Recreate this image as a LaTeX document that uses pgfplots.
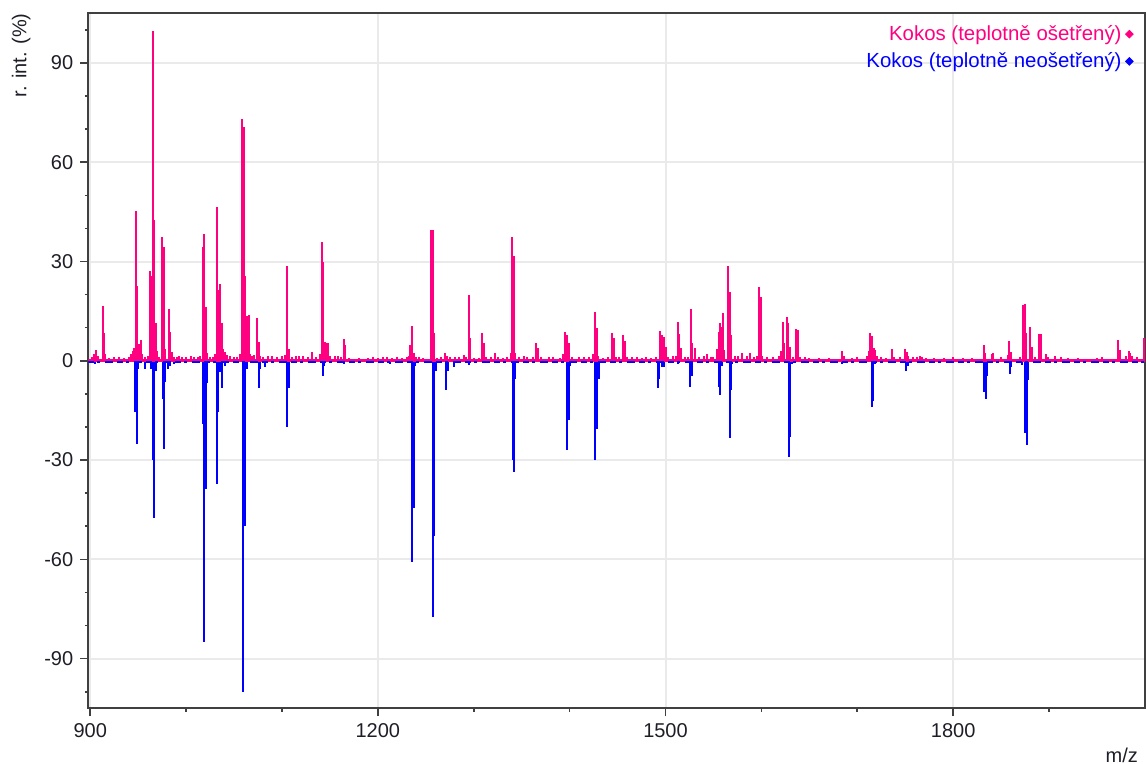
\documentclass[border=0pt]{standalone}
\usepackage{pgfplots}
\pgfplotsset{compat=1.18}
\usepackage{pgfplotstable}
\usepackage{fontspec}
\setmainfont{Liberation Sans}
\definecolor{kpink}{RGB}{255,0,128}
\definecolor{kblue}{RGB}{0,0,255}
\definecolor{axgray}{RGB}{64,64,64}
\definecolor{gridgray}{RGB}{234,234,234}
\definecolor{ticktext}{RGB}{30,30,40}

\pgfplotstableread{
mz int
902 1.2
904 2.0
906 3.3
908 1.5
913.2 16.6
914.5 8.4
915.8 2.0
920 0.8
925 1.0
930 1.0
935 0.8
940 1.2
943 2.0
944.5 3.0
946 4.0
947.3 45.4
948.7 22.7
950 5.0
951.5 5.0
953 6.3
954.5 2.0
957 1.2
960 1.5
961.9 27.0
963.3 25.7
965.4 99.6
966.8 42.6
968.2 11.5
969.6 3.0
972 1.0
975.1 37.4
976.5 34.5
978 3.5
981.7 15.6
983.1 8.6
984.8 2.8
987 1.2
990 1.0
993 1.5
996 1.0
1000 1.2
1005 1.5
1008 1.2
1012 1.0
1015 1.3
1017.2 34.5
1018.9 38.3
1020.7 16.2
1022.3 2.3
1025 1.0
1028 1.2
1030.5 2.0
1032.1 46.4
1033.5 21.4
1035.2 23.2
1037 11.5
1038.8 3.5
1040.5 2.8
1043 1.8
1046 1.3
1050 1.0
1053 1.2
1056.5 2.0
1058.2 73.0
1059.9 70.6
1061.6 25.7
1063.4 13.5
1065.1 13.8
1067 2.0
1069 1.3
1071 1.8
1074.2 12.8
1075.6 5.8
1077.5 1.5
1080 1.2
1085 1.5
1090 1.3
1095 1.2
1100 1.5
1103 1.8
1105.5 28.5
1107 3.5
1110 1.2
1115 1.5
1118 1.3
1122 1.5
1127 1.0
1131 2.8
1135 1.0
1139.5 2.0
1141.3 36.0
1142.7 29.8
1144.5 5.8
1146 5.3
1148 5.3
1150 1.5
1155 1.3
1158 1.5
1162 1.2
1164.3 6.6
1166 4.8
1170 0.8
1180 0.8
1190 0.8
1195 1.0
1200 0.8
1205 1.0
1210 1.0
1215 0.8
1220 1.0
1225 0.8
1230 1.2
1232 1.5
1233.8 4.8
1235.6 10.5
1237.3 2.5
1240 1.0
1243 1.0
1247 0.8
1255.7 39.4
1257.1 39.4
1258.5 8.5
1262 0.8
1266 1.0
1270 2.3
1272 1.5
1275 1.0
1280 1.0
1285 1.2
1290 1.6
1292 1.0
1294.7 19.9
1296.1 6.8
1300 0.8
1305 0.8
1308.9 8.5
1310.5 5.3
1313 1.0
1318 1.0
1322 2.3
1325 1.2
1330 0.8
1335 1.2
1338.5 2.5
1340.2 37.5
1341.9 31.7
1343.5 2.5
1347 1.0
1352 1.3
1356 1.0
1362 1.0
1365 5.3
1366.5 4.0
1370 1.0
1378 1.2
1383 1.0
1390 0.8
1393.5 2.0
1395.5 8.6
1397 7.8
1399 5.3
1402 1.0
1410 1.0
1415 1.2
1420 1.0
1424.5 2.0
1426.5 14.7
1428.2 9.8
1430 1.5
1435 0.8
1440 1.0
1444.2 8.5
1445.8 6.8
1448 1.0
1452 1.0
1455.6 7.7
1457.4 6.0
1460 1.0
1465 1.0
1470 1.2
1475 0.8
1480 1.0
1485 0.8
1490 1.2
1494.6 9.1
1496.3 7.8
1498 7.3
1500 4.3
1503 1.2
1508 1.5
1511 1.5
1513 11.8
1514.4 8.0
1516.2 3.8
1520 1.0
1523 1.0
1526.6 15.6
1528 5.3
1531 3.8
1535 1.0
1540 1.5
1543 2.2
1547 1.0
1550 1.2
1553.5 3.5
1555.4 8.8
1557 11.5
1558.5 10.3
1560 14.5
1561.5 3.3
1565.5 28.5
1566.9 20.9
1568.6 7.8
1572 1.5
1576 1.5
1580 2.3
1585 1.5
1588 2.5
1592 1.0
1595 1.5
1597.7 22.4
1599.1 19.4
1601 1.5
1606 1.0
1612 1.0
1618 1.5
1620.5 3.0
1622.2 11.8
1624 5.3
1626.7 13.3
1628.1 11.5
1629.6 4.3
1633 1.0
1636.5 9.5
1638.2 9.3
1640 1.2
1645 1.0
1650 0.8
1660 0.8
1670 0.8
1684.1 3.1
1686 1.5
1695 0.8
1700 1.0
1710 1.3
1712 3.0
1713.7 8.3
1715 7.5
1717 3.8
1719 3.3
1721 1.5
1725 1.0
1730 0.8
1736.3 3.5
1738 1.2
1745 1.0
1749.8 3.5
1751.5 2.8
1753 1.5
1758 1.0
1762 1.2
1765 1.5
1768 1.0
1772 0.8
1780 0.8
1790 0.8
1800 1.1
1810 0.8
1820 0.8
1831.9 4.8
1833.5 2.5
1840 2.0
1842 2.5
1850 1.0
1857 1.8
1858.7 6.1
1860.5 2.8
1870 1.0
1873.3 16.9
1874.7 17.2
1876.3 8.3
1879.9 10.3
1881.8 4.3
1885 1.0
1889.6 8.1
1891.2 8.1
1897 2.0
1899 1.0
1906 1.5
1912 1.0
1920 0.8
1930 0.8
1950 0.8
1955 1.0
1972 6.3
1973.6 3.3
1980 1.5
1983 3.1
1984.8 2.5
1987 1.5
1992 1.0
1998.8 6.8
}\pinkdata

\pgfplotstableread{
mz int
905 -1.0
920 -0.8
946.9 -15.4
948.6 -25.0
950 -2.5
957.5 -2.5
963 -2.5
965.4 -30.0
966.8 -47.6
968.5 -3.0
975.4 -11.6
976.8 -26.8
978 -6.3
981.5 -2.5
983 -1.5
987 -1.0
1017.2 -19.1
1018.9 -84.9
1020.3 -38.6
1022 -6.6
1032.4 -37.3
1033.5 -15.4
1035.2 -3.5
1037 -8.3
1040.5 -1.5
1059.6 -100.0
1061 -50.0
1063.4 -2.5
1075.6 -8.3
1077.3 -2.5
1082 -2.0
1105.5 -20.1
1107 -8.3
1142.7 -4.6
1144 -1.5
1164.3 -1.0
1213 -1.0
1235.9 -60.7
1237.3 -44.6
1239 -1.5
1257.1 -77.3
1258.8 -53.0
1260.5 -3.0
1271 -8.8
1273 -3.2
1279 -2.0
1294.7 -1.2
1326 -0.7
1340.9 -30.0
1341.9 -33.5
1343.3 -5.6
1362 -0.7
1397.2 -27.1
1398.9 -17.8
1400.6 -1.5
1426.8 -30.0
1428.8 -20.6
1430.2 -5.5
1491.8 -8.1
1493.2 -5.5
1496 -2.0
1498 -2.0
1513.5 -1.0
1525.9 -7.8
1527.5 -4.6
1555.4 -7.8
1557 -10.3
1558.7 -1.5
1566.9 -23.4
1568.3 -8.8
1569.7 -1.0
1628.4 -29.0
1629.8 -22.9
1631.8 -1.0
1684 -1.0
1715.4 -13.9
1716.8 -12.1
1718.5 -1.0
1751.2 -3.0
1752.6 -1.5
1832.6 -9.3
1834 -11.6
1835.4 -4.7
1859 -3.9
1860.7 -1.9
1872 -1.2
1875.4 -21.7
1876.8 -25.5
1878.2 -5.8
}\bluedata

\begin{document}
\begin{tikzpicture}
\useasboundingbox (-44.15pt,-27.85pt) rectangle (528.85pt,354.15pt);
\begin{axis}[
  scale only axis, width=528.3pt, height=347.5pt,
  at={(0pt,0pt)}, anchor=south west,
  xmin=898, xmax=2000, ymin=-105, ymax=105,
  xtick={900,1200,1500,1800}, ytick={-90,-60,...,90},
  minor xtick={1000,1100,1300,1400,1600,1700,1900},
  minor ytick={-100,-80,-70,-50,-40,-20,-10,10,20,40,50,70,80,100},
  tick pos=left, tick align=outside,
  major tick length=4pt, minor tick length=1.7pt,
  tick style={axgray, line width=0.8pt},
  grid=major, major grid style={gridgray, line width=1pt},
  axis line style={axgray, line width=1pt},
  tick label style={font=\fontsize{10}{12}\selectfont, text=ticktext},
  /pgf/number format/assume math mode=true,
  /pgf/number format/1000 sep={},
  ylabel={r. int. (\%)},
  every axis y label/.style={at={(axis description cs:-0.0634,0.9396)}, rotate=90, anchor=center, font=\fontsize{10}{12}\selectfont, text=ticktext},
  xlabel={m/z},
  every axis x label/.style={at={(axis description cs:1,0)}, anchor=base east, yshift=-27pt, font=\fontsize{10}{12}\selectfont, text=ticktext},
  legend style={at={(axis description cs:0.995,0.995)}, anchor=north east, draw=none, fill=none, font=\fontsize{10.2}{12}\selectfont, row sep=0.6pt, /tikz/every even column/.append style={column sep=5pt}},
  legend plot pos=right, legend cell align=right,
  legend image code/.code={\draw[#1] plot coordinates {(0.1cm,0cm)};},
]
\addlegendimage{only marks, mark=square*, mark size=1.35pt, mark options={rotate=45}, color=kpink}
\addlegendentry{\textcolor{kpink}{Kokos (teplotně ošetřený)}}
\addlegendimage{only marks, mark=square*, mark size=1.35pt, mark options={rotate=45}, color=kblue}
\addlegendentry{\textcolor{kblue}{Kokos (teplotně neošetřený)}}

\addplot[forget plot, ycomb, kblue, line width=1pt] table[x=mz, y=int] {\bluedata};
\addplot[forget plot, kpink, line width=1.7pt] coordinates {(898,0) (2000,0)};
\addplot[forget plot, kblue, line width=0.8pt, dash pattern=on 3pt off 1.5pt on 1.5pt off 2.5pt on 4pt off 2pt] coordinates {(898,-0.45) (2000,-0.45)};
\addplot[forget plot, ycomb, kpink, line width=1pt] table[x=mz, y=int] {\pinkdata};
\end{axis}
\end{tikzpicture}
\end{document}
